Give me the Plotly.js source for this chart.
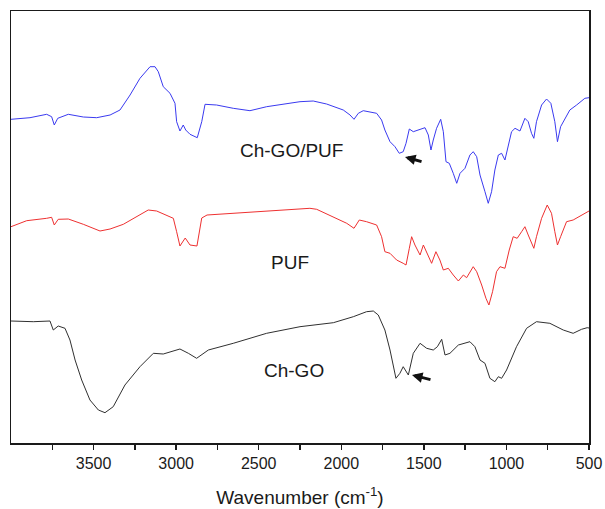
<!DOCTYPE html>
<html>
<head>
<meta charset="utf-8">
<script src="https://cdn.plot.ly/plotly-3.0.1.min.js"></script>
<style>html,body{margin:0;padding:0;background:#fff;}#plot{width:605px;height:509px;}</style>
</head>
<body>
<div id="plot"></div>
<script>
// Wavenumbers (cm-1) and relative transmittance (arbitrary offset units)
const chgoPufWn = [4000,3885,3784,3754,3738,3717,3653,3562,3481,3400,3340,3279,3219,3158,3128,3108,3078,3037,3007,2997,2977,2957,2942,2916,2872,2845,2825,2755,2654,2553,2452,2351,2250,2170,2089,1988,1947,1923,1897,1867,1827,1786,1756,1736,1705,1675,1649,1625,1608,1588,1564,1534,1493,1473,1457,1443,1423,1398,1382,1366,1346,1322,1301,1281,1251,1221,1201,1180,1160,1130,1110,1090,1070,1049,1029,1009,989,969,948,918,888,868,848,834,818,787,757,731,707,691,672,646,616,575,525,500];
const chgoPufT = [323.7,325.3,328.7,326.3,318,324.7,328.7,326,325.3,328,333,348,364.7,376.3,376.3,371.3,356.3,349.7,339.7,321.3,312,318,313,308.7,305.3,321.3,338.7,338,334.7,332.3,336.3,339,341.3,342,339,333,328,323.7,329.7,332.3,331.3,329.7,323,313,301.3,296.3,289.7,291.3,299.7,314,311.3,313,315.3,308,293,303,314.7,323.7,311.3,281.3,279.7,269.7,259.7,269.7,274.7,288,291.3,286.3,268,251.3,239.7,251.3,273,288,289.7,283,296.3,311.3,314.7,312,324.7,321.3,309.7,304.7,321.3,338,344,339.7,321.3,301.3,316.3,324.7,333,338,344.7,345.3];

const pufWn = [4000,3905,3784,3754,3738,3714,3653,3562,3461,3400,3320,3239,3169,3118,3057,3017,2997,2977,2945,2916,2874,2845,2813,2654,2452,2351,2190,2149,2048,1967,1923,1891,1847,1786,1756,1736,1705,1665,1625,1608,1588,1574,1554,1523,1503,1473,1453,1427,1403,1382,1352,1322,1291,1261,1241,1201,1180,1150,1124,1106,1084,1060,1039,1009,983,959,935,908,888,868,834,818,787,753,727,707,691,672,636,596,545,500];
const pufT = [216.3,222.3,224.7,225.7,218,223.7,224,218.7,212,214,218.7,226.3,233,232,228,224.7,211.3,197,205,198,197,225,228,229.7,232,233,234.7,233.7,226.3,219.7,214.7,223,221.3,218,206.3,191.3,189.7,183,179.7,178,194.7,206.3,198,188,198,188,179.7,191.3,183,173,174.7,168,162,168,165.3,176.3,171.3,158,144.7,138,151.3,171.3,176.3,174.7,193,206.3,204.7,211.3,216.3,208,194.7,206.3,224.7,238,229.7,211.3,198,206.3,221.3,223,228,232];

const chgoWn = [4000,3865,3764,3744,3714,3673,3643,3612,3572,3522,3471,3431,3381,3310,3219,3138,3078,2977,2926,2876,2805,2654,2452,2250,2048,1927,1847,1806,1776,1736,1705,1669,1645,1625,1594,1564,1523,1483,1443,1418,1392,1372,1342,1291,1221,1191,1160,1130,1100,1070,1049,1029,999,939,878,818,737,656,596,545,511,500];
const chgoT = [122,121.3,122,113,117,114.7,103,83,63,43,33,30.3,36.3,58,76.3,89.7,89,94,89.7,84.7,93,99.7,109.7,116.3,120.3,126.3,131.3,132,128,113,93,64.7,69.7,76.3,68,89.7,99.7,94.7,93,96.3,103.7,88,89.7,98,101.3,96.3,83,79.7,64.7,61.3,66.3,64.7,73,96.3,114.7,121.3,119.7,113,109.7,113.7,115.3,115];

const seriesNames = ["Ch-GO/PUF", "PUF", "Ch-GO"];
const majorTicks = [3500, 3000, 2500, 2000, 1500, 1000, 500];
const minorTicks = [3750, 3250, 2750, 2250, 1750, 1250, 750];

const FONT = "Liberation Sans, Arial, Helvetica, sans-serif";

const traces = [
  {x: chgoPufWn, y: chgoPufT, name: seriesNames[0], mode: "lines", line: {color: "#3a3af0", width: 1}},
  {x: pufWn, y: pufT, name: seriesNames[1], mode: "lines", line: {color: "#ee3030", width: 1}},
  {x: chgoWn, y: chgoT, name: seriesNames[2], mode: "lines", line: {color: "#303030", width: 1}}
];

const layout = {
  width: 605, height: 509,
  margin: {l: 11, r: 16, t: 11, b: 66},
  paper_bgcolor: "#fff", plot_bgcolor: "#fff",
  showlegend: false,
  font: {family: FONT, color: "#1a1a1a"},
  xaxis: {
    range: [4000, 500],
    tickvals: majorTicks,
    ticktext: majorTicks.map(String),
    ticks: "outside", ticklen: 5, tickwidth: 1.3, tickcolor: "#1a1a1a",
    minor: {tickvals: minorTicks, ticks: "outside", ticklen: 5, tickwidth: 1.3, tickcolor: "#1a1a1a"},
    showline: true, linecolor: "#1a1a1a", linewidth: 1.5, mirror: true,
    showgrid: false, zeroline: false,
    tickfont: {size: 16, family: FONT, color: "#1a1a1a"},
    title: {text: "Wavenumber (cm<sup>-1</sup>)", font: {size: 19, family: FONT, color: "#1a1a1a"}, standoff: 20}
  },
  yaxis: {
    range: [0, 432],
    showticklabels: false, ticks: "",
    showline: true, linecolor: "#1a1a1a", linewidth: 1.5, mirror: true,
    showgrid: false, zeroline: false
  },
  annotations: [
    {x: 2299, y: 293, text: seriesNames[0], showarrow: false, font: {size: 19, family: FONT, color: "#1a1a1a"}},
    {x: 2311, y: 181, text: seriesNames[1], showarrow: false, font: {size: 19, family: FONT, color: "#1a1a1a"}},
    {x: 2286, y: 73, text: seriesNames[2], showarrow: false, font: {size: 19, family: FONT, color: "#1a1a1a"}},
    {x: 1614, y: 286, text: "", showarrow: true, ax: 18, ay: 5, arrowhead: 2, arrowsize: 0.7, arrowwidth: 3, arrowcolor: "#111"},
    {x: 1572, y: 68, text: "", showarrow: true, ax: 20, ay: 5, arrowhead: 2, arrowsize: 0.7, arrowwidth: 3, arrowcolor: "#111"}
  ]
};

Plotly.newPlot("plot", traces, layout, {displayModeBar: false, staticPlot: true});
</script>
</body>
</html>
